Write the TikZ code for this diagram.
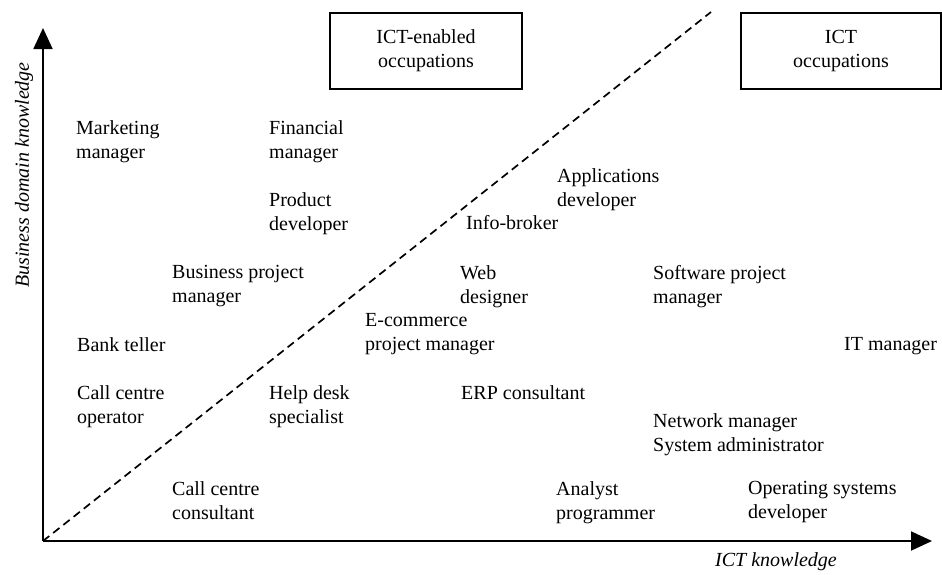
\documentclass[tikz,border=0pt]{standalone}
\usepackage{fontspec}
\setmainfont{Liberation Serif}
\usetikzlibrary{arrows.meta}

\tikzset{
  job/.style={anchor=north west, inner sep=0pt, align=left, font=\fontsize{20}{24}\selectfont},
  group/.style={draw, line width=1.6pt, minimum width=192pt, minimum height=76pt, inner sep=0pt, align=center, font=\fontsize{20}{24}\selectfont},
  axis/.style={line width=1.8pt, -{Triangle[length=21pt,width=19pt]}},
  axislabel/.style={inner sep=0pt, font=\fontsize{20}{24}\selectfont\itshape},
}

\begin{document}
\begin{tikzpicture}[x=1pt, y=-1pt]
		%%%%% START %%%%%
		\useasboundingbox (0, 0) rectangle (942, 574);
		
		\coordinate (o) at (43, 541);
		\coordinate (xend) at (932, 541);
		\coordinate (yend) at (43, 28);
		\coordinate (split) at (711, 12);
		
		% axes and the dividing line
		\draw[axis] (o) -- (xend);
		\draw[axis] (o) -- (yend);
		\draw[line width=1.7pt, dash pattern=on 8pt off 5pt] (o) -- (split);
		
		\node[axislabel] (xlab) at (776, 562) {ICT knowledge};
		\node[axislabel, rotate=90] (ylab) at (24, 175) {Business domain knowledge};
		
		% the two groups
		\node[group] (enabled) at (426, 51) {ICT-enabled\\occupations};
		\node[group, minimum width=200pt] (ict) at (841, 51) {ICT\\occupations};
		
		% occupations
		\node[job] (marketing) at (76, 120) {Marketing\\manager};
		\node[job] (financial) at (269, 120) {Financial\\manager};
		\node[job] (product) at (269, 192) {Product\\developer};
		\node[job] (applications) at (557, 168) {Applications\\developer};
		\node[job] (infobroker) at (466, 215) {Info-broker};
		\node[job] (business) at (172, 265) {Business project\\manager};
		\node[job] (web) at (460, 265) {Web\\designer};
		\node[job] (software) at (653, 265) {Software project\\manager};
		\node[job] (ecommerce) at (365, 313) {E-commerce\\project manager};
		\node[job] (bank) at (77, 337) {Bank teller};
		\node[job] (itmanager) at (844, 337) {IT manager};
		\node[job] (operator) at (77, 385) {Call centre\\operator};
		\node[job] (helpdesk) at (269, 385) {Help desk\\specialist};
		\node[job] (erp) at (461, 385) {ERP consultant};
		\node[job] (network) at (653, 413) {Network manager\\System administrator};
		\node[job] (consultant) at (172, 481) {Call centre\\consultant};
		\node[job] (analyst) at (556, 481) {Analyst\\programmer};
		\node[job] (opsys) at (748, 481) {Operating systems\\developer};
		
		%%%%% END %%%%%
\end{tikzpicture}
\end{document}
